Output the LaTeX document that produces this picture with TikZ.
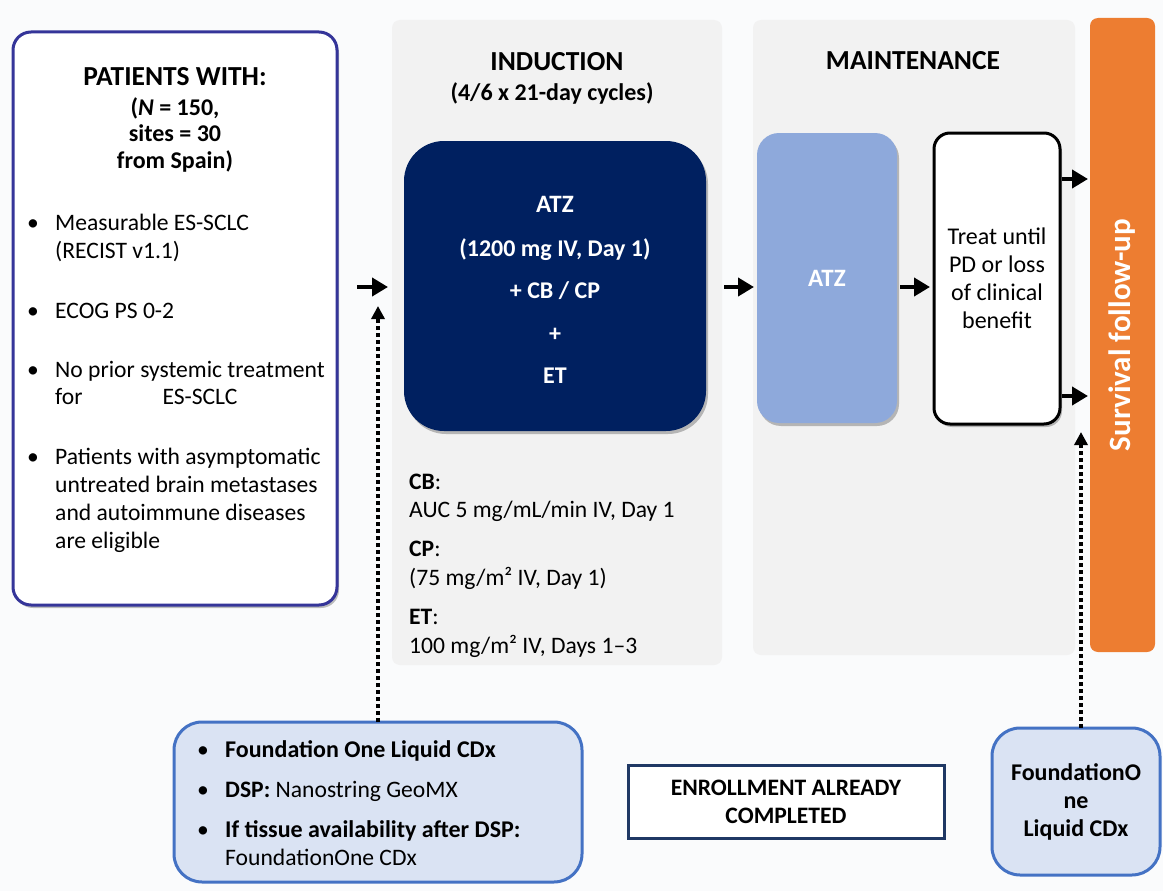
\documentclass[tikz,border=0pt]{standalone}
\usepackage{fontspec}
\setmainfont{Carlito}
\usetikzlibrary{arrows.meta,shadows}

\definecolor{bgwhite}{HTML}{FAFBFC}
\definecolor{panelgray}{HTML}{F2F2F2}
\definecolor{navy}{HTML}{002060}
\definecolor{atzblue}{HTML}{8EA9DB}
\definecolor{followup}{HTML}{ED7D31}
\definecolor{cdxfill}{HTML}{DAE3F3}
\definecolor{cdxline}{HTML}{4472C4}
\definecolor{patline}{HTML}{353599}
\definecolor{enrline}{HTML}{1F3864}

\begin{document}
\begin{tikzpicture}[x=1pt,y=-1pt,
	box/.style={inner sep=0pt, outer sep=0pt},
	softshadow/.style={drop shadow={shadow xshift=2pt,shadow yshift=-3pt,opacity=.25,fill=black}},
	txt/.style={inner sep=0pt, font=\fontsize{23.6}{28}\selectfont},
	bold/.style={txt, font=\fontsize{24}{28}\selectfont\bfseries},
	big/.style={txt, font=\fontsize{27.5}{30}\selectfont\bfseries},
	arr/.style={line width=4pt, -{Triangle[length=16pt,width=18pt]}},
	dotarr/.style={line width=4pt, dash pattern=on 4pt off 3pt, -{Triangle[length=13pt,width=13pt]}}]

	\fill[bgwhite] (0,0) rectangle (1163,891);
	\useasboundingbox (0,0) rectangle (1163,891);

	% phases
	\node[box, fill=panelgray, rounded corners=8pt, minimum width=330, minimum height=645] (ind) at (557,342.5) {};
	\node[box, fill=panelgray, rounded corners=8pt, minimum width=322, minimum height=635] (maint) at (914,337.5) {};

	% patients
	\node[box, draw=patline, line width=3pt, fill=white, rounded corners=18pt, minimum width=324, minimum height=573, softshadow] (pat) at (175,318.5) {};
	\node[big, anchor=base] (pattitle) at (175,85) {PATIENTS WITH:};
	\node[bold, anchor=base] (patn) at (175,115) {(\textit{N} = 150,};
	\node[bold, anchor=base] (patsites) at (175,141) {sites = 30};
	\node[bold, anchor=base] (patspain) at (175,168) {from Spain)};
	\foreach \yy/\line in {230/Measurable ES-SCLC, 258/{(RECIST v1.1)}, 318/ECOG PS 0-2,
		377/No prior systemic treatment, 404/for\hspace{80pt}ES-SCLC,
		464/Patients with asymptomatic, 492/untreated brain metastases,
		520/and autoimmune diseases, 548/are eligible}
		\node[txt, anchor=base west] (crit\yy) at (55,\yy) {\line};
	\foreach \yy in {230,318,377,464}
		\node[txt, anchor=base] (dot\yy) at (33,\yy) {•};

	% induction
	\node[big, anchor=base] (indtitle) at (557,71) {INDUCTION};
	\node[bold, anchor=base] (indcyc) at (552,101) {(4/6 x 21-day cycles)};
	\node[box, fill=navy, rounded corners=40pt, minimum width=302, minimum height=290, softshadow] (chemo) at (555,286) {};
	\node[bold, font=\fontsize{25}{30}\selectfont\bfseries, text=white, anchor=base] (chemo1) at (555,212) {ATZ};
	\foreach \yy/\line in {256/{(1200 mg IV, Day 1)}, 298/{+ CB / CP}, 341/+, 383/ET}
		\node[bold, text=white, anchor=base] (chemo\yy) at (555,\yy) {\line};
	\node[txt, anchor=base west] (cb) at (409,489) {\textbf{CB}:};
	\node[txt, anchor=base west] (cbdose) at (409,517) {AUC 5 mg/mL/min IV, Day 1};
	\node[txt, anchor=base west] (cp) at (409,556) {\textbf{CP}:};
	\node[txt, anchor=base west] (cpdose) at (409,585) {(75 mg/m² IV, Day 1)};
	\node[txt, anchor=base west] (et) at (409,624) {\textbf{ET}:};
	\node[txt, anchor=base west] (etdose) at (409,653) {100 mg/m² IV, Days 1–3};

	% maintenance
	\node[big, anchor=base] (mainttitle) at (913,70) {MAINTENANCE};
	\node[box, bold, font=\fontsize{25}{30}\selectfont\bfseries, text=white, fill=atzblue, rounded corners=22pt, minimum width=140, minimum height=290, softshadow] (atz) at (827,278) {ATZ};
	\node[box, txt, font=\fontsize{24}{28}\selectfont, draw=black, line width=3pt, fill=white, rounded corners=16pt, minimum width=126, minimum height=291, softshadow, align=center] (treat) at (997,278.5) {Treat until\\PD or loss\\of clinical\\benefit};
	\node[box, fill=followup, rounded corners=8pt, rotate=90, minimum width=634, minimum height=65, text=white, font=\fontsize{31}{34}\selectfont\bfseries] (surv) at (1122.5,335) {Survival follow-up};

	% biomarkers
	\node[box, draw=cdxline, line width=3pt, fill=cdxfill, rounded corners=28pt, minimum width=408, minimum height=160] (liquid) at (378,802) {};
	\node[bold, anchor=base west] (liq1) at (225,757) {Foundation One Liquid CDx};
	\node[txt, anchor=base west] (liq2) at (225,797) {\textbf{DSP:} Nanostring GeoMX};
	\node[bold, anchor=base west] (liq3) at (225,837) {If tissue availability after DSP:};
	\node[txt, anchor=base west] (liq4) at (225,865) {FoundationOne CDx};
	\foreach \yy in {757,797,837}
		\node[txt, anchor=base] (ldot\yy) at (203,\yy) {•};
	\node[box, bold, font=\fontsize{23.6}{28}\selectfont\bfseries, draw=enrline, line width=3pt, fill=white, minimum width=316, minimum height=73, align=center] (enroll) at (786,801.5) {ENROLLMENT ALREADY\\COMPLETED};
	\node[box, bold, draw=cdxline, line width=3pt, fill=cdxfill, rounded corners=28pt, minimum width=168, minimum height=147, align=center] (fonecdx) at (1076,801.5) {FoundationO\\ne\\Liquid CDx};

	% arrows
	\coordinate (enter) at (357,287);
	\coordinate (entertip) at (388,287);
	\coordinate (dottip1) at (378,306);
	\coordinate (dottip2) at (1081,432);
	\draw[arr] (enter) -- (entertip);
	\draw[arr, shorten <=18pt, shorten >=3pt] (chemo.east |- enter) -- (atz.west |- enter);
	\draw[arr, shorten <=3pt, shorten >=4pt] (atz.east |- enter) -- (treat.west |- enter);
	\draw[arr, shorten <=2pt, shorten >=2pt] (treat.east |- 0,179) -- (surv.north |- 0,179);
	\draw[arr, shorten <=2pt, shorten >=2pt] (treat.east |- 0,396) -- (surv.north |- 0,396);
	\draw[dotarr] (liquid.north) -- (dottip1);
	\draw[dotarr] ([xshift=5pt]fonecdx.north) -- (dottip2);

\end{tikzpicture}
\end{document}
